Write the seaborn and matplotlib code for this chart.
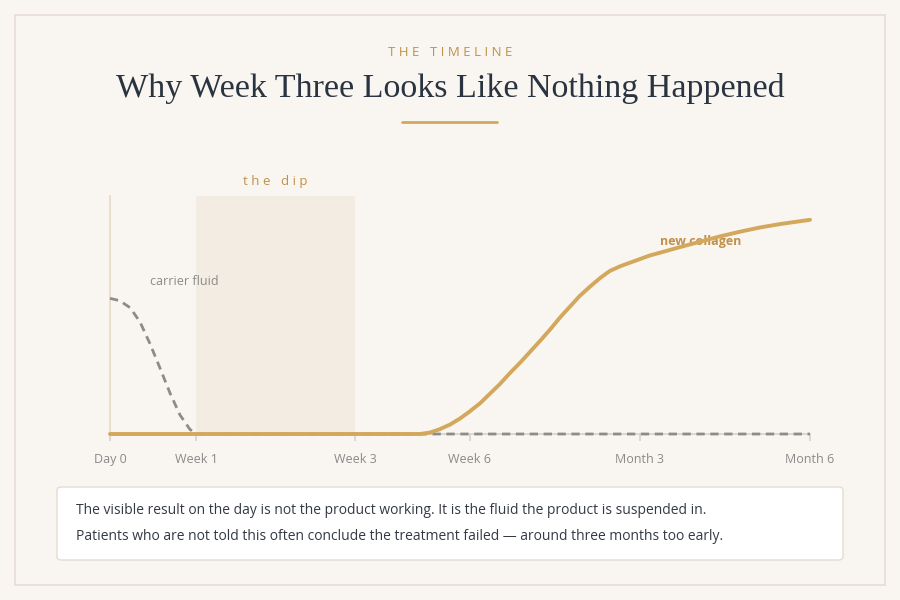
import matplotlib
matplotlib.use("Agg")
import matplotlib.pyplot as plt
import seaborn as sns
from matplotlib.patches import Rectangle, FancyBboxPatch

# timeline positions (0 = day 0, 100 = month 6)
tick_pos = [0, 12.3, 35, 51.4, 75.7, 100]
tick_labels = ["Day 0", "Week 1", "Week 3", "Week 6", "Month 3", "Month 6"]

collagen_x = [0, 44.3, 45.7, 47.1, 48.6, 50, 51.4, 52.9, 54.3, 55.7, 57.1, 58.6, 60, 61.4,
              62.9, 64.3, 65.7, 67.1, 68.6, 70, 71.4, 72.9, 74.3, 75.7, 77.1, 78.6, 81.4,
              84.3, 87.1, 90, 92.9, 95.7, 100]
collagen_y = [0, 0, 0.6, 2, 4, 6.5, 9.5, 13, 17, 21, 25.5, 30, 34.5, 39, 44, 49, 53.5,
              58, 62, 65.5, 68.5, 70.5, 72, 73.5, 75, 76.2, 78.5, 80.8, 83, 85, 86.8, 88.2, 90]

carrier_x = [0, 1.4, 2.9, 4.3, 5.7, 7.1, 8.6, 10, 11.4, 12.3, 100]
carrier_y = [57, 56, 53, 47, 38, 28, 17, 8, 2, 0, 0]

dip_start, dip_end = 12.3, 35

bg = "#f9f6f1"
gold = "#d4a85c"
sns.set_theme(style="white")
plt.rcParams['font.family'] = ['Open Sans', 'DejaVu Sans']

fig = plt.figure(figsize=(9, 6), dpi=100, facecolor=bg)
fig.patches.append(Rectangle((15/900, 15/600), 870/900, 570/600, transform=fig.transFigure,
                             fill=False, edgecolor="#e8dcd6", lw=1.2))
fig.text(0.5, 1 - 53/600, "T H E   T I M E L I N E", ha="center", va="center",
         color="#c0914a", fontsize=9.5)
fig.text(0.5, 1 - 89/600, "Why Week Three Looks Like Nothing Happened", ha="center", va="center",
         color="#2a3340", fontsize=24.5, family=["Liberation Serif", "DejaVu Serif"])
fig.lines.append(plt.Line2D([402/900, 497/900], [1 - 122/600] * 2, transform=fig.transFigure,
                            color=gold, lw=2))

ax = fig.add_axes([110/900, 166/600, 700/900, 238/600])
ax.set_facecolor(bg)
ax.axvspan(dip_start, dip_end, color="#f2ece2", lw=0, zorder=0)
sns.lineplot(x=carrier_x, y=carrier_y, ax=ax, color="#8c8c8c", lw=2, linestyle=(0, (3, 2)),
             zorder=4, clip_on=False)
sns.lineplot(x=collagen_x, y=collagen_y, ax=ax, color=gold, lw=2.8, zorder=5, clip_on=False)
ax.set_xlim(0, 100)
ax.set_ylim(0, 100)
ax.set_yticks([])
ax.set_xticks(tick_pos)
ax.set_xticklabels(tick_labels, color="#8a8a8a", fontsize=9)
ax.tick_params(axis="x", length=5, color="#d9d3c8", pad=9, bottom=True)
for s in ["top", "right"]:
    ax.spines[s].set_visible(False)
ax.spines["left"].set_color("#e6dcc8")
ax.spines["bottom"].set_color("#d9d3c8")
ax.text((dip_start + dip_end) / 2, 106, "t h e   d i p", ha="center", va="center", color="#c0914a",
        fontsize=9.5, clip_on=False)
ax.text(5.7, 64, "carrier fluid", color="#8a8a8a", fontsize=9, va="center")
ax.text(78.6, 81, "new collagen", color="#c0914a", fontsize=9, weight="bold", va="center")

fig.patches.append(FancyBboxPatch((57/900, 40/600), 786/900, 73/600, transform=fig.transFigure,
                                  boxstyle="round,pad=0,rounding_size=0.005",
                                  facecolor="white", edgecolor="#e3ddd2", lw=1))
fig.text(76/900, 1 - 511/600, "The visible result on the day is not the product working. It is the fluid the product is suspended in.",
         color="#333a44", fontsize=10, va="center")
fig.text(76/900, 1 - 536/600, "Patients who are not told this often conclude the treatment failed \u2014 around three months too early.",
         color="#333a44", fontsize=10, va="center")

fig.savefig("out.png", dpi=100, facecolor=bg)
